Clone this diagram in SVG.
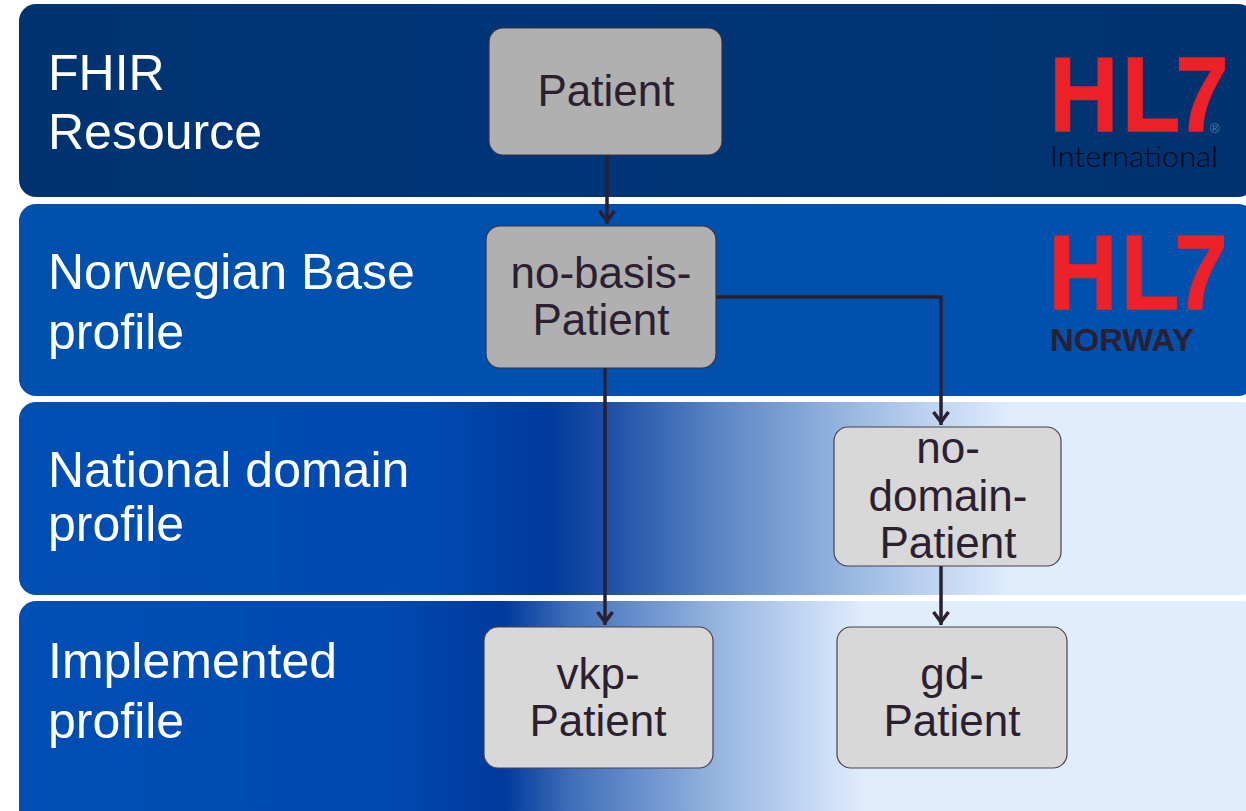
<svg xmlns="http://www.w3.org/2000/svg" width="1246" height="811" viewBox="0 0 1246 811">
<style>
.lbl{font-family:"Liberation Sans",Arial,sans-serif;font-size:50px;fill:#fff}
.nt{font-family:"Liberation Sans",Arial,sans-serif;font-size:44px;fill:#2b1f30;text-anchor:middle}
.dark{fill:#b0b0b0;stroke:#3a3040;stroke-width:1.2}
.light{fill:#d8d8d8;stroke:#4a4050;stroke-width:1.2}
.c{fill:none;stroke:#2b1f30;stroke-width:3.5}
.logo{font-family:"Liberation Sans",Arial,sans-serif;font-weight:bold;font-size:105px;fill:#ed2128;stroke:#ed2128;stroke-width:1.4}
</style>
<defs>
<marker id="a" markerUnits="userSpaceOnUse" markerWidth="26" markerHeight="26" refX="18" refY="13" orient="auto" overflow="visible">
<path d="M5 5.5 L15 13 L5 20.5" fill="none" stroke="#2b1f30" stroke-width="3.5"/>
</marker>
<linearGradient id="g1" x1="0" x2="1" y1="0" y2="0"><stop offset="0" stop-color="#00336f"/><stop offset=".4" stop-color="#00357a"/><stop offset="1" stop-color="#00336f"/></linearGradient>
<linearGradient id="g3" gradientUnits="userSpaceOnUse" x1="19" x2="1246" y1="0" y2="0">
<stop offset="0" stop-color="#004fb5"/><stop offset=".34" stop-color="#0049b0"/><stop offset=".43" stop-color="#003a9c"/><stop offset=".48" stop-color="#1c50a5"/><stop offset=".57" stop-color="#5b85c3"/><stop offset=".66" stop-color="#8fb0dc"/><stop offset=".74" stop-color="#bcd2ef"/><stop offset=".81" stop-color="#e0edfd"/><stop offset="1" stop-color="#e0edfd"/>
</linearGradient>
<linearGradient id="g4" gradientUnits="userSpaceOnUse" x1="19" x2="1246" y1="0" y2="0">
<stop offset="0" stop-color="#004fb5"/><stop offset=".3" stop-color="#0049b0"/><stop offset=".395" stop-color="#003a9c"/><stop offset=".45" stop-color="#3f6fb9"/><stop offset=".56" stop-color="#8fb0dc"/><stop offset=".63" stop-color="#bcd2ef"/><stop offset=".69" stop-color="#e0edfd"/><stop offset="1" stop-color="#e0edfd"/>
</linearGradient>
</defs>
<rect width="1246" height="811" fill="#fff"/>
<g id="bands">
<rect x="19" y="4" width="1236" height="193" rx="17" fill="url(#g1)"/>
<rect x="19" y="204" width="1236" height="192" rx="17" fill="#0050ae"/>
<rect x="19" y="402" width="1240" height="193" rx="17" fill="url(#g3)"/>
<rect x="19" y="601" width="1240" height="230" rx="17" fill="url(#g4)"/>
</g>
<g id="band-labels">
<text class="lbl" x="48" y="90">FHIR</text>
<text class="lbl" x="48" y="149">Resource</text>
<text class="lbl" x="48" y="289">Norwegian Base</text>
<text class="lbl" x="48" y="349">profile</text>
<text class="lbl" x="48" y="487">National domain</text>
<text class="lbl" x="48" y="541">profile</text>
<text class="lbl" x="48" y="678">Implemented</text>
<text class="lbl" x="48" y="738">profile</text>
</g>
<g id="logo-international">
<text class="logo" transform="translate(0 130.5) scale(.907 1)"><tspan x="1157">H</tspan><tspan x="1237">L</tspan><tspan x="1296">7</tspan></text>
<text x="1210" y="133" font-family="'Liberation Sans',Arial,sans-serif" font-size="13" fill="#5a7da8">®</text>
<text x="1050" y="167" font-family="'Lato','Liberation Sans',sans-serif" font-weight="300" font-size="30" fill="#00081a" textLength="168" lengthAdjust="spacingAndGlyphs">International</text>
</g>
<g id="logo-norway">
<text class="logo" transform="translate(0 308.5) scale(.907 1)"><tspan x="1156">H</tspan><tspan x="1236">L</tspan><tspan x="1295">7</tspan></text>
<text x="1050" y="351" font-family="'Liberation Sans',Arial,sans-serif" font-weight="bold" font-size="32" fill="#2b1f30" textLength="144" lengthAdjust="spacingAndGlyphs">NORWAY</text>
</g>
<g id="connectors">
<path class="c" d="M607 155V224" marker-end="url(#a)"/>
<path class="c" d="M605 368V625" marker-end="url(#a)"/>
<path class="c" d="M716 297H941V425" marker-end="url(#a)"/>
<path class="c" d="M941 566V625" marker-end="url(#a)"/>
</g>
<g id="node-patient">
<rect class="dark" x="489" y="28" width="233" height="127" rx="14"/>
<text class="nt" x="606" y="106">Patient</text>
</g>
<g id="node-no-basis">
<rect class="dark" x="486" y="226" width="230" height="142" rx="14"/>
<text class="nt" x="601" y="288">no-basis-</text>
<text class="nt" x="601" y="335">Patient</text>
</g>
<g id="node-no-domain">
<rect class="light" x="834" y="427" width="227" height="139" rx="14"/>
<text class="nt" x="948" y="463">no-</text>
<text class="nt" x="948" y="511">domain-</text>
<text class="nt" x="948" y="558">Patient</text>
</g>
<g id="node-vkp">
<rect class="light" x="484" y="627" width="229" height="141" rx="14"/>
<text class="nt" x="598" y="689">vkp-</text>
<text class="nt" x="598" y="736">Patient</text>
</g>
<g id="node-gd">
<rect class="light" x="837" y="627" width="230" height="141" rx="14"/>
<text class="nt" x="952" y="689">gd-</text>
<text class="nt" x="952" y="736">Patient</text>
</g>
</svg>
